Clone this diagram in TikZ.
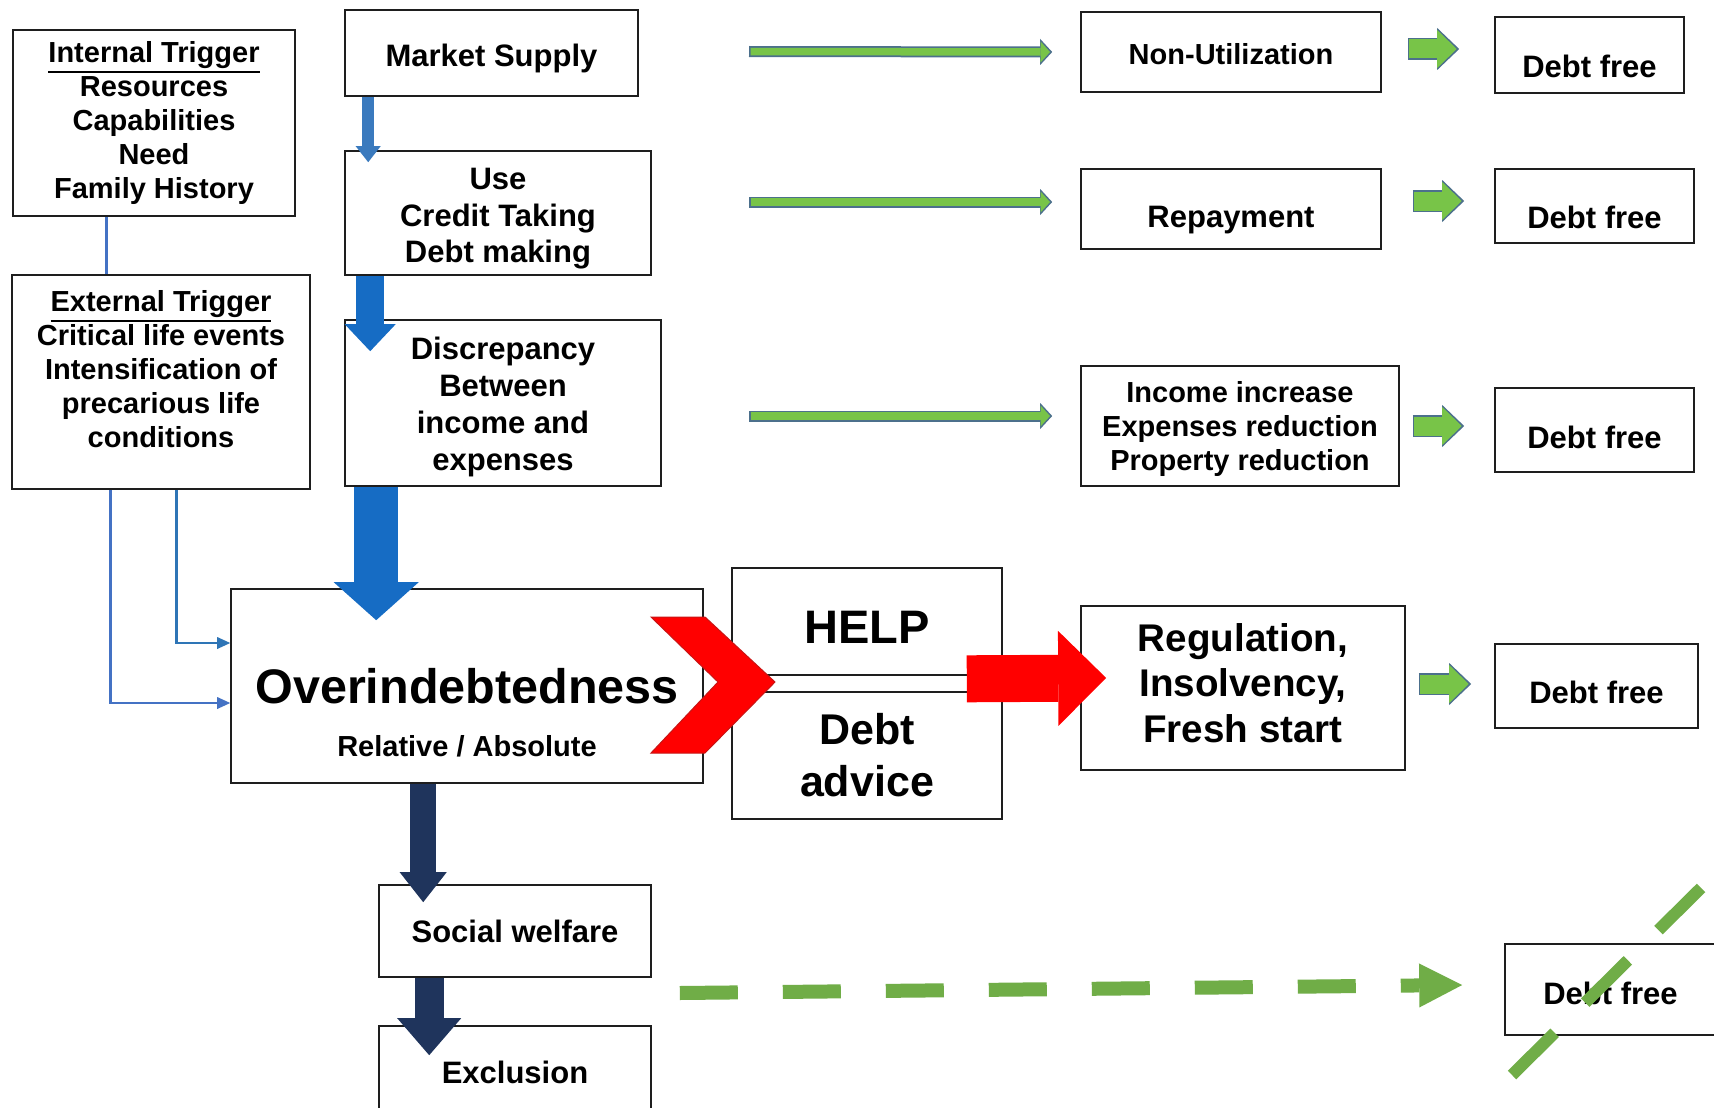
\documentclass[tikz,border=0pt]{standalone}
\usepackage{fontspec}
\setmainfont{Liberation Sans}
\usetikzlibrary{arrows.meta,calc}

\newcommand{\ulthick}[1]{\vtop{\hbox{#1}\kern2pt\hrule height 2pt}}

\definecolor{boxline}{RGB}{30,30,30}
\definecolor{steel}{RGB}{58,122,190}
\definecolor{brightblue}{RGB}{22,108,196}
\definecolor{navy}{RGB}{31,52,92}
\definecolor{linkA}{RGB}{46,117,182}
\definecolor{linkB}{RGB}{68,114,196}
\definecolor{gfill}{RGB}{120,196,72}
\definecolor{gedge}{RGB}{76,112,140}
\definecolor{gdash}{RGB}{112,173,71}
\definecolor{reddark}{RGB}{200,20,20}

\begin{document}
\begin{tikzpicture}[x=1pt, y=-1pt,
    box/.style={draw=boxline, line width=1.6pt, inner sep=0pt, align=center},
    fs/.style 2 args={font=\bfseries\fontsize{#1}{#2}\selectfont, align=center},
    link/.style={line width=2.6pt, -{Triangle[length=13pt, width=12pt, line width=0pt]}},
    blockarr/.style n args={3}{line width=#1, -{Triangle[length=#2, width=#3, line width=0pt]}},
    glong/.style={color=gfill, line width=7.5pt, shorten <=1.5pt, shorten >=2.2pt,
        -{Triangle[length=9.5pt, width=21pt, line width=0pt]},
        preaction={draw, color=gedge, line width=11pt, shorten <=0pt, shorten >=0pt,
            -{Triangle[length=12pt, width=26pt, line width=0pt]}}},
    gshort/.style={color=gfill, line width=19pt, shorten <=1.5pt, shorten >=2.5pt,
        -{Triangle[length=19.5pt, width=38pt, line width=0pt]},
        preaction={draw, color=gedge, line width=22pt, shorten <=0pt, shorten >=0pt,
            -{Triangle[length=22pt, width=42pt, line width=0pt]}}},
    gdashed/.style={color=gdash, line width=14pt, dash pattern=on 58pt off 45pt,
        -{Triangle[length=43pt, width=44pt, line width=0pt]}},
    gslash/.style={color=gdash, line width=12pt, dash pattern=on 60pt off 43pt}
]
\path[use as bounding box, fill=white] (0,0) rectangle (1714,1108);
\clip (0,0) rectangle (1714,1108);

% triggers
\node[box, fs={29}{34}, minimum width=282, minimum height=186] (int) at (154,123)
    {\ulthick{Internal Trigger}\\Resources\\Capabilities\\Need\\Family History};
\node[box, minimum width=298, minimum height=214] (ext) at (161,382) {};
\node[fs={29}{34}] (extT) at ([yshift=13pt]ext.center)
    {\ulthick{External Trigger}\\Critical life events\\Intensification of\\precarious life\\conditions};

% credit chain
\node[box, minimum width=293, minimum height=86] (ms) at (491.5,53) {};
\node[fs={31}{36.5}] (msT) at ([yshift=-5pt]ms.center) {Market Supply};
\node[box, minimum width=306, minimum height=124] (use) at (498,213) {};
\node[fs={31}{36.5}] (useT) at ([yshift=-6pt]use.center) {Use\\Credit Taking\\Debt making};
\node[box, minimum width=316, minimum height=166] (disc) at (503,403) {};
\node[fs={31}{37}] (discT) at ([yshift=-4pt]disc.center) {Discrepancy\\Between\\income and\\expenses};
\node[box, minimum width=472, minimum height=194] (over) at (467,686) {};
\node[fs={48.5}{58}] (overT) at ([yshift=-27pt]over.center)
    {Overindebtedness\\[-5pt]{\fontsize{29}{34}\selectfont Relative / Absolute}};
\node[box, minimum width=270, minimum height=107] (help) at (867,621.5) {};
\node[fs={47}{52}] (helpT) at ([yshift=-6pt]help.center) {HELP};
\node[box, fs={43}{52}, minimum width=270, minimum height=127] (adv) at (867,755.5) {Debt\\advice};
\node[box, fs={31}{36}, minimum width=272, minimum height=92] (soc) at (515,931) {Social welfare};
\node[box, fs={31}{36}, minimum width=272, minimum height=92] (excl) at (515,1072) {Exclusion};

% ways out
\node[box, minimum width=300, minimum height=80] (nonu) at (1231,52) {};
\node[fs={29}{34}] (nonuT) at ([yshift=-2pt]nonu.center) {Non-Utilization};
\node[box, minimum width=300, minimum height=80] (repay) at (1231,209) {};
\node[fs={31}{36}] (repayT) at ([yshift=-11pt]repay.center) {Repayment};
\node[box, minimum width=318, minimum height=120] (inc) at (1240,426) {};
\node[fs={29}{34}] (incT) at ([yshift=-3pt]inc.center) {Income increase\\Expenses reduction\\Property reduction};
\node[box, minimum width=324, minimum height=164] (reg) at (1243,688) {};
\node[fs={38.6}{45.5}] (regT) at ([yshift=5pt]reg.center) {Regulation,\\Insolvency,\\Fresh start};
\foreach \i/\x/\y/\w/\h/\dy in {1/1589.5/55/189/76/11, 2/1594.5/206/199/74/11,
    3/1594.5/430/199/84/7.5, 4/1596.5/686/203/84/6, 5/1610.5/989.5/211/91/3.5}{
  \node[box, minimum width=\w, minimum height=\h] (free\i) at (\x,\y) {};
  \node[fs={31}{36}] (freeT\i) at ([yshift=-\dy]free\i.center) {Debt free};
}

% trigger links
\draw[color=linkB, line width=2.6pt] ([xshift=94pt]int.south west) -- ([xshift=95pt]ext.north west);
\draw[link, color=linkA] ([xshift=165pt]ext.south west) |- ([yshift=43pt]over.west);
\draw[link, color=linkB] ([xshift=99pt]ext.south west) |- ([yshift=-17pt]over.west);

% block arrows down
\draw[blockarr={12pt}{16pt}{25pt}, color=steel] ([xshift=24pt]ms.south west) -- ([xshift=24pt,yshift=-12pt]use.north west);
\draw[blockarr={28pt}{27pt}{51pt}, color=brightblue] ([xshift=26pt]use.south west) -- ([xshift=26pt,yshift=-32pt]disc.north west);
\draw[blockarr={44pt}{38pt}{85pt}, color=brightblue] ([xshift=32pt]disc.south west) -- ([xshift=146pt,yshift=-32pt]over.north west);
\draw[blockarr={26pt}{30pt}{47pt}, color=navy] ([xshift=193pt]over.south west) -- ([xshift=45pt,yshift=-18pt]soc.north west);
\draw[blockarr={29pt}{37pt}{64pt}, color=navy] ([xshift=51pt]soc.south west) -- ([xshift=51pt,yshift=-30pt]excl.north west);

% help
\fill[red, draw=reddark, line width=1pt] (651,617) -- (705,617) -- (775,682) -- (705,753) -- (651,753) -- (718,682) -- cycle;
\draw[blockarr={47pt}{48pt}{95pt}, color=red] ([xshift=-36pt,yshift=-3pt]help.south east) -- ([xshift=26pt,yshift=10pt]reg.west);

% green arrows
\coordinate (g1) at (749,51.5);
\coordinate (g2) at (749,202);
\coordinate (g3) at (749,416);
\draw[glong] (g1) -- ([xshift=-28pt]nonu.west);
\draw[glong] (g2) -- ([xshift=-28pt,yshift=7pt]repay.west);
\draw[glong] (g3) -- ([xshift=-28pt,yshift=10pt]inc.west);
\draw[gshort] ([xshift=26pt,yshift=3pt]nonu.east) -- ([xshift=-35pt,yshift=6pt]free1.west);
\draw[gshort] ([xshift=31pt,yshift=8pt]repay.east) -- ([xshift=-30pt,yshift=5pt]free2.west);
\draw[gshort] ([xshift=13pt]inc.east) -- ([xshift=-30pt,yshift=4pt]free3.west);
\draw[gshort] ([xshift=13pt,yshift=4pt]reg.east) -- ([xshift=-23pt,yshift=2pt]free4.west);
\draw[gdashed] ([xshift=28pt,yshift=-62pt]soc.east) -- ([xshift=-42pt,yshift=4.5pt]free5.west);
\draw[gslash] ([xshift=-98.5pt,yshift=-85.5pt]free5.center) -- ([xshift=91.5pt,yshift=102.5pt]free5.center);
\end{tikzpicture}
\end{document}
